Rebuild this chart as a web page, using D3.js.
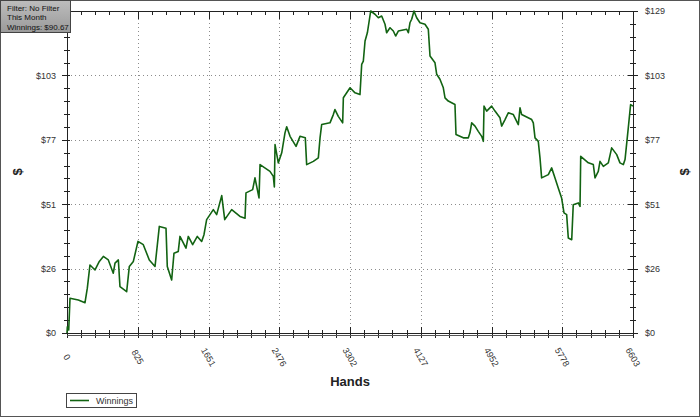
<!DOCTYPE html>
<meta charset="utf-8">
<style>

body {
  margin: 0;
  background: #fff;
}

svg {
  display: block;
  font-family: Arial, "Liberation Sans", sans-serif;
}

.grid line {
  stroke: #8c8c8c;
  stroke-dasharray: 1,3;
}

.axis path,
.axis line {
  stroke: #222;
  shape-rendering: crispEdges;
}

.axis text {
  font-size: 9px;
  fill: #333;
}

.winnings {
  fill: none;
  stroke: #126312;
  stroke-width: 1.6;
  stroke-linejoin: round;
}

</style>
<svg width="700" height="417"></svg>
<script src="https://cdn.jsdelivr.net/npm/d3@7"></script>
<script>

var hands = [0, 4, 20, 35, 132, 210, 237, 268, 327, 377, 424, 482, 540, 560, 599, 618, 696, 727, 774, 828,
  890, 960, 1027, 1077, 1155, 1170, 1221, 1248, 1298, 1318, 1388, 1415, 1466, 1520, 1571, 1598, 1629, 1707, 1746, 1805,
  1840, 1921, 2018, 2077, 2088, 2166, 2193, 2240, 2252, 2368, 2407, 2419, 2427, 2465, 2505, 2543, 2563, 2602, 2672, 2718,
  2780, 2796, 2874, 2932, 2952, 2971, 3068, 3107, 3126, 3165, 3216, 3224, 3302, 3360, 3418, 3438, 3457, 3477, 3504, 3543,
  3593, 3632, 3671, 3710, 3729, 3768, 3807, 3834, 3865, 3963, 3982, 4001, 4021, 4048, 4079, 4118, 4176, 4215, 4235, 4293,
  4313, 4351, 4390, 4410, 4448, 4526, 4538, 4623, 4682, 4701, 4721, 4760, 4798, 4838, 4857, 4865, 4896, 4954, 4993, 5051,
  5071, 5110, 5148, 5207, 5265, 5285, 5304, 5421, 5440, 5460, 5498, 5518, 5537, 5615, 5654, 5693, 5731, 5770, 5798, 5829,
  5848, 5888, 5906, 5965, 5985, 5993, 6082, 6140, 6160, 6198, 6218, 6257, 6315, 6354, 6413, 6451, 6490, 6510, 6536, 6548,
  6575, 6603];

var winnings = [0, 2.5, 1.2, 13.9, 13.2, 12.1, 17.9, 27.2, 25.2, 28.6, 30.6, 29.2, 23.9, 27.9, 29.2, 18.5, 16.5, 26.6, 28.6, 36.6,
  35.3, 29.2, 26.6, 42.6, 41.9, 26.6, 21.2, 31.9, 32.6, 38.6, 33.9, 38.6, 35.3, 38.6, 36.6, 39.3, 45.3, 49.3, 47.3, 54.9,
  45.3, 49.3, 46.6, 45.9, 56, 57.3, 62, 54, 67.3, 64.6, 62.6, 58.4, 75.3, 68, 72, 80, 82.4, 78.6, 74.6, 78.6,
  78, 67.3, 68.6, 70, 78, 83.3, 84, 87.3, 89.3, 86.6, 84, 94, 98, 96, 95.3, 107.4, 108.7, 116.7, 120, 128.7,
  127.4, 126, 126.7, 123.4, 120, 122, 120.7, 118.7, 120.7, 121.4, 120, 124, 125.4, 128.7, 126, 124, 123.4, 121.4, 110.7, 108,
  103.4, 101.4, 98, 94, 92.7, 91.3, 79.3, 78, 78, 80, 84, 82.7, 80.6, 78.6, 76.6, 90.7, 88.7, 90.7, 88.7, 86,
  82.7, 85.3, 88, 87.3, 83.3, 90, 87.3, 85.3, 84, 78, 76.6, 70, 62, 63.3, 66, 62, 58, 54, 48, 47.3,
  38, 37.3, 51.3, 52, 50.6, 70.6, 68, 67.3, 62, 64.6, 68.6, 66.6, 68, 74, 71.3, 68, 67.3, 69.3, 78, 82,
  91.3, 90.67];

var xTickLabels = ["0", "825", "1651", "2476", "3302", "4127", "4952", "5778", "6603"];
var yTickLabels = ["$0", "$26", "$51", "$77", "$103", "$129"];
var infoLines = ["Filter: No Filter", "This Month", "Winnings: $90.67"];
var seriesName = "Winnings";

var handsMax = 6603,
    yMax = 128.7;

var svg = d3.select("svg"),
    width = +svg.attr("width"),
    height = +svg.attr("height");

var plotLeft = 67, plotRight = 633, plotTop = 11, plotBottom = 333;

var x = d3.scaleLinear().domain([0, handsMax]).range([plotLeft, plotRight]);
var y = d3.scaleLinear().domain([0, yMax]).range([plotBottom, plotTop]);

var xMajor = d3.range(xTickLabels.length).map(function(i) { return handsMax * i / (xTickLabels.length - 1); });
var yMajor = d3.range(yTickLabels.length).map(function(i) { return yMax * i / (yTickLabels.length - 1); });
var xMinor = d3.range(0, 41).map(function(i) { return handsMax * i / 40; });
var yMinor = d3.range(0, 26).map(function(i) { return yMax * i / 25; });

// outer frame
svg.append("rect")
    .attr("x", 0.5).attr("y", 0.5)
    .attr("width", width - 1).attr("height", height - 1)
    .attr("fill", "#fff")
    .attr("stroke", "#555");

// grid
var grid = svg.append("g").attr("class", "grid");
grid.selectAll(".gx")
    .data(xMajor.slice(1, -1))
  .enter().append("line")
    .attr("x1", function(d) { return Math.round(x(d)) + 0.5; })
    .attr("x2", function(d) { return Math.round(x(d)) + 0.5; })
    .attr("y1", plotTop).attr("y2", plotBottom);
grid.selectAll(".gy")
    .data(yMajor.slice(1, -1))
  .enter().append("line")
    .attr("y1", function(d) { return Math.round(y(d)) + 0.5; })
    .attr("y2", function(d) { return Math.round(y(d)) + 0.5; })
    .attr("x1", plotLeft).attr("x2", plotRight);

// axes (left top label sits under the info box, so it is left out)
svg.append("g")
    .attr("class", "axis")
    .attr("transform", "translate(" + plotLeft + ",0)")
    .call(d3.axisLeft(y).tickValues(yMinor).tickSize(3).tickSizeOuter(0).tickFormat(""))
    .call(function(g) { g.selectAll(".tick line").attr("x2", 3).attr("x1", -3); });
svg.append("g")
    .attr("class", "axis")
    .attr("transform", "translate(" + plotLeft + ",0)")
    .call(d3.axisLeft(y).tickValues(yMajor.slice(0, -1)).tickSize(5).tickPadding(6).tickSizeOuter(0)
      .tickFormat(function(d, i) { return yTickLabels[i]; }));

svg.append("g")
    .attr("class", "axis")
    .attr("transform", "translate(" + plotRight + ",0)")
    .call(d3.axisRight(y).tickValues(yMinor).tickSize(3).tickSizeOuter(0).tickFormat(""))
    .call(function(g) { g.selectAll(".tick line").attr("x2", 3).attr("x1", -3); });
svg.append("g")
    .attr("class", "axis")
    .attr("transform", "translate(" + plotRight + ",0)")
    .call(d3.axisRight(y).tickValues(yMajor).tickSize(5).tickPadding(7).tickSizeOuter(0)
      .tickFormat(function(d, i) { return yTickLabels[i]; }))
    .call(function(g) { g.selectAll(".tick line").attr("x1", -5); });

svg.append("g")
    .attr("class", "axis")
    .attr("transform", "translate(0," + plotTop + ")")
    .call(d3.axisBottom(x).tickValues(xMinor).tickSize(4).tickSizeOuter(0).tickFormat(""))
    .call(function(g) {
      g.selectAll(".tick line").filter(function(d, i) { return i % 5 === 0; }).attr("y2", 8);
    });

svg.append("g")
    .attr("class", "axis")
    .attr("transform", "translate(0," + plotBottom + ")")
    .call(d3.axisBottom(x).tickValues(xMinor).tickSize(3).tickSizeOuter(0).tickFormat(""))
    .call(function(g) {
      g.selectAll(".tick line").attr("y1", -3).attr("y2", 5)
        .filter(function(d, i) { return i % 5 === 0; }).attr("y1", -6);
    });

svg.append("line")
    .attr("x1", plotLeft).attr("x2", plotRight)
    .attr("y1", plotBottom + 2.5).attr("y2", plotBottom + 2.5)
    .attr("stroke", "#555");

// rotated hand labels
svg.append("g")
  .selectAll("text")
    .data(xMajor)
  .enter().append("text")
    .attr("transform", function(d) { return "translate(" + x(d) + "," + (plotBottom + 24) + ") rotate(60)"; })
    .attr("text-anchor", "middle")
    .attr("dy", "0.35em")
    .style("font-size", "9px")
    .style("fill", "#333")
    .text(function(d, i) { return xTickLabels[i]; });

// axis titles
svg.append("text")
    .attr("x", (plotLeft + plotRight) / 2)
    .attr("y", 386)
    .attr("text-anchor", "middle")
    .style("font-size", "13px")
    .style("font-weight", "bold")
    .style("fill", "#222")
    .text("Hands");

[17, 684].forEach(function(cx) {
  svg.append("text")
      .attr("transform", "translate(" + cx + "," + ((plotTop + plotBottom) / 2) + ") rotate(-90)")
      .attr("text-anchor", "middle")
      .attr("dy", "0.35em")
      .style("font-size", "13px")
      .style("font-weight", "bold")
      .style("fill", "#222")
      .text("$");
});

// the line
var line = d3.line()
    .x(function(d) { return x(d[0]); })
    .y(function(d) { return y(d[1]); });

svg.append("path")
    .datum(d3.zip(hands, winnings))
    .attr("class", "winnings")
    .attr("d", line);

// info box
var grad = svg.append("defs").append("linearGradient")
    .attr("id", "boxfill")
    .attr("x1", 0).attr("y1", 0).attr("x2", 0).attr("y2", 1);
grad.append("stop").attr("offset", "0%").attr("stop-color", "#bdbdbd");
grad.append("stop").attr("offset", "100%").attr("stop-color", "#9a9a9a");

svg.append("rect")
    .attr("x", 0.5).attr("y", 0.5)
    .attr("width", 70).attr("height", 32)
    .attr("fill", "url(#boxfill)")
    .attr("stroke", "#444");

svg.append("g")
  .selectAll("text")
    .data(infoLines)
  .enter().append("text")
    .attr("x", 7)
    .attr("y", function(d, i) { return 10.5 + i * 9.5; })
    .style("font-family", "Arial, 'Liberation Sans', sans-serif")
    .style("font-size", "8px")
    .style("fill", "#111")
    .text(function(d) { return d; });

// legend
svg.append("rect")
    .attr("x", 66.5).attr("y", 393.5)
    .attr("width", 70).attr("height", 14)
    .attr("fill", "#fff")
    .attr("stroke", "#444");
svg.append("line")
    .attr("x1", 70).attr("x2", 89)
    .attr("y1", 400.5).attr("y2", 400.5)
    .attr("stroke", "#126312")
    .attr("stroke-width", 1.6);
svg.append("text")
    .attr("x", 96).attr("y", 404)
    .style("font-size", "9px")
    .style("fill", "#333")
    .text(seriesName);

</script>
